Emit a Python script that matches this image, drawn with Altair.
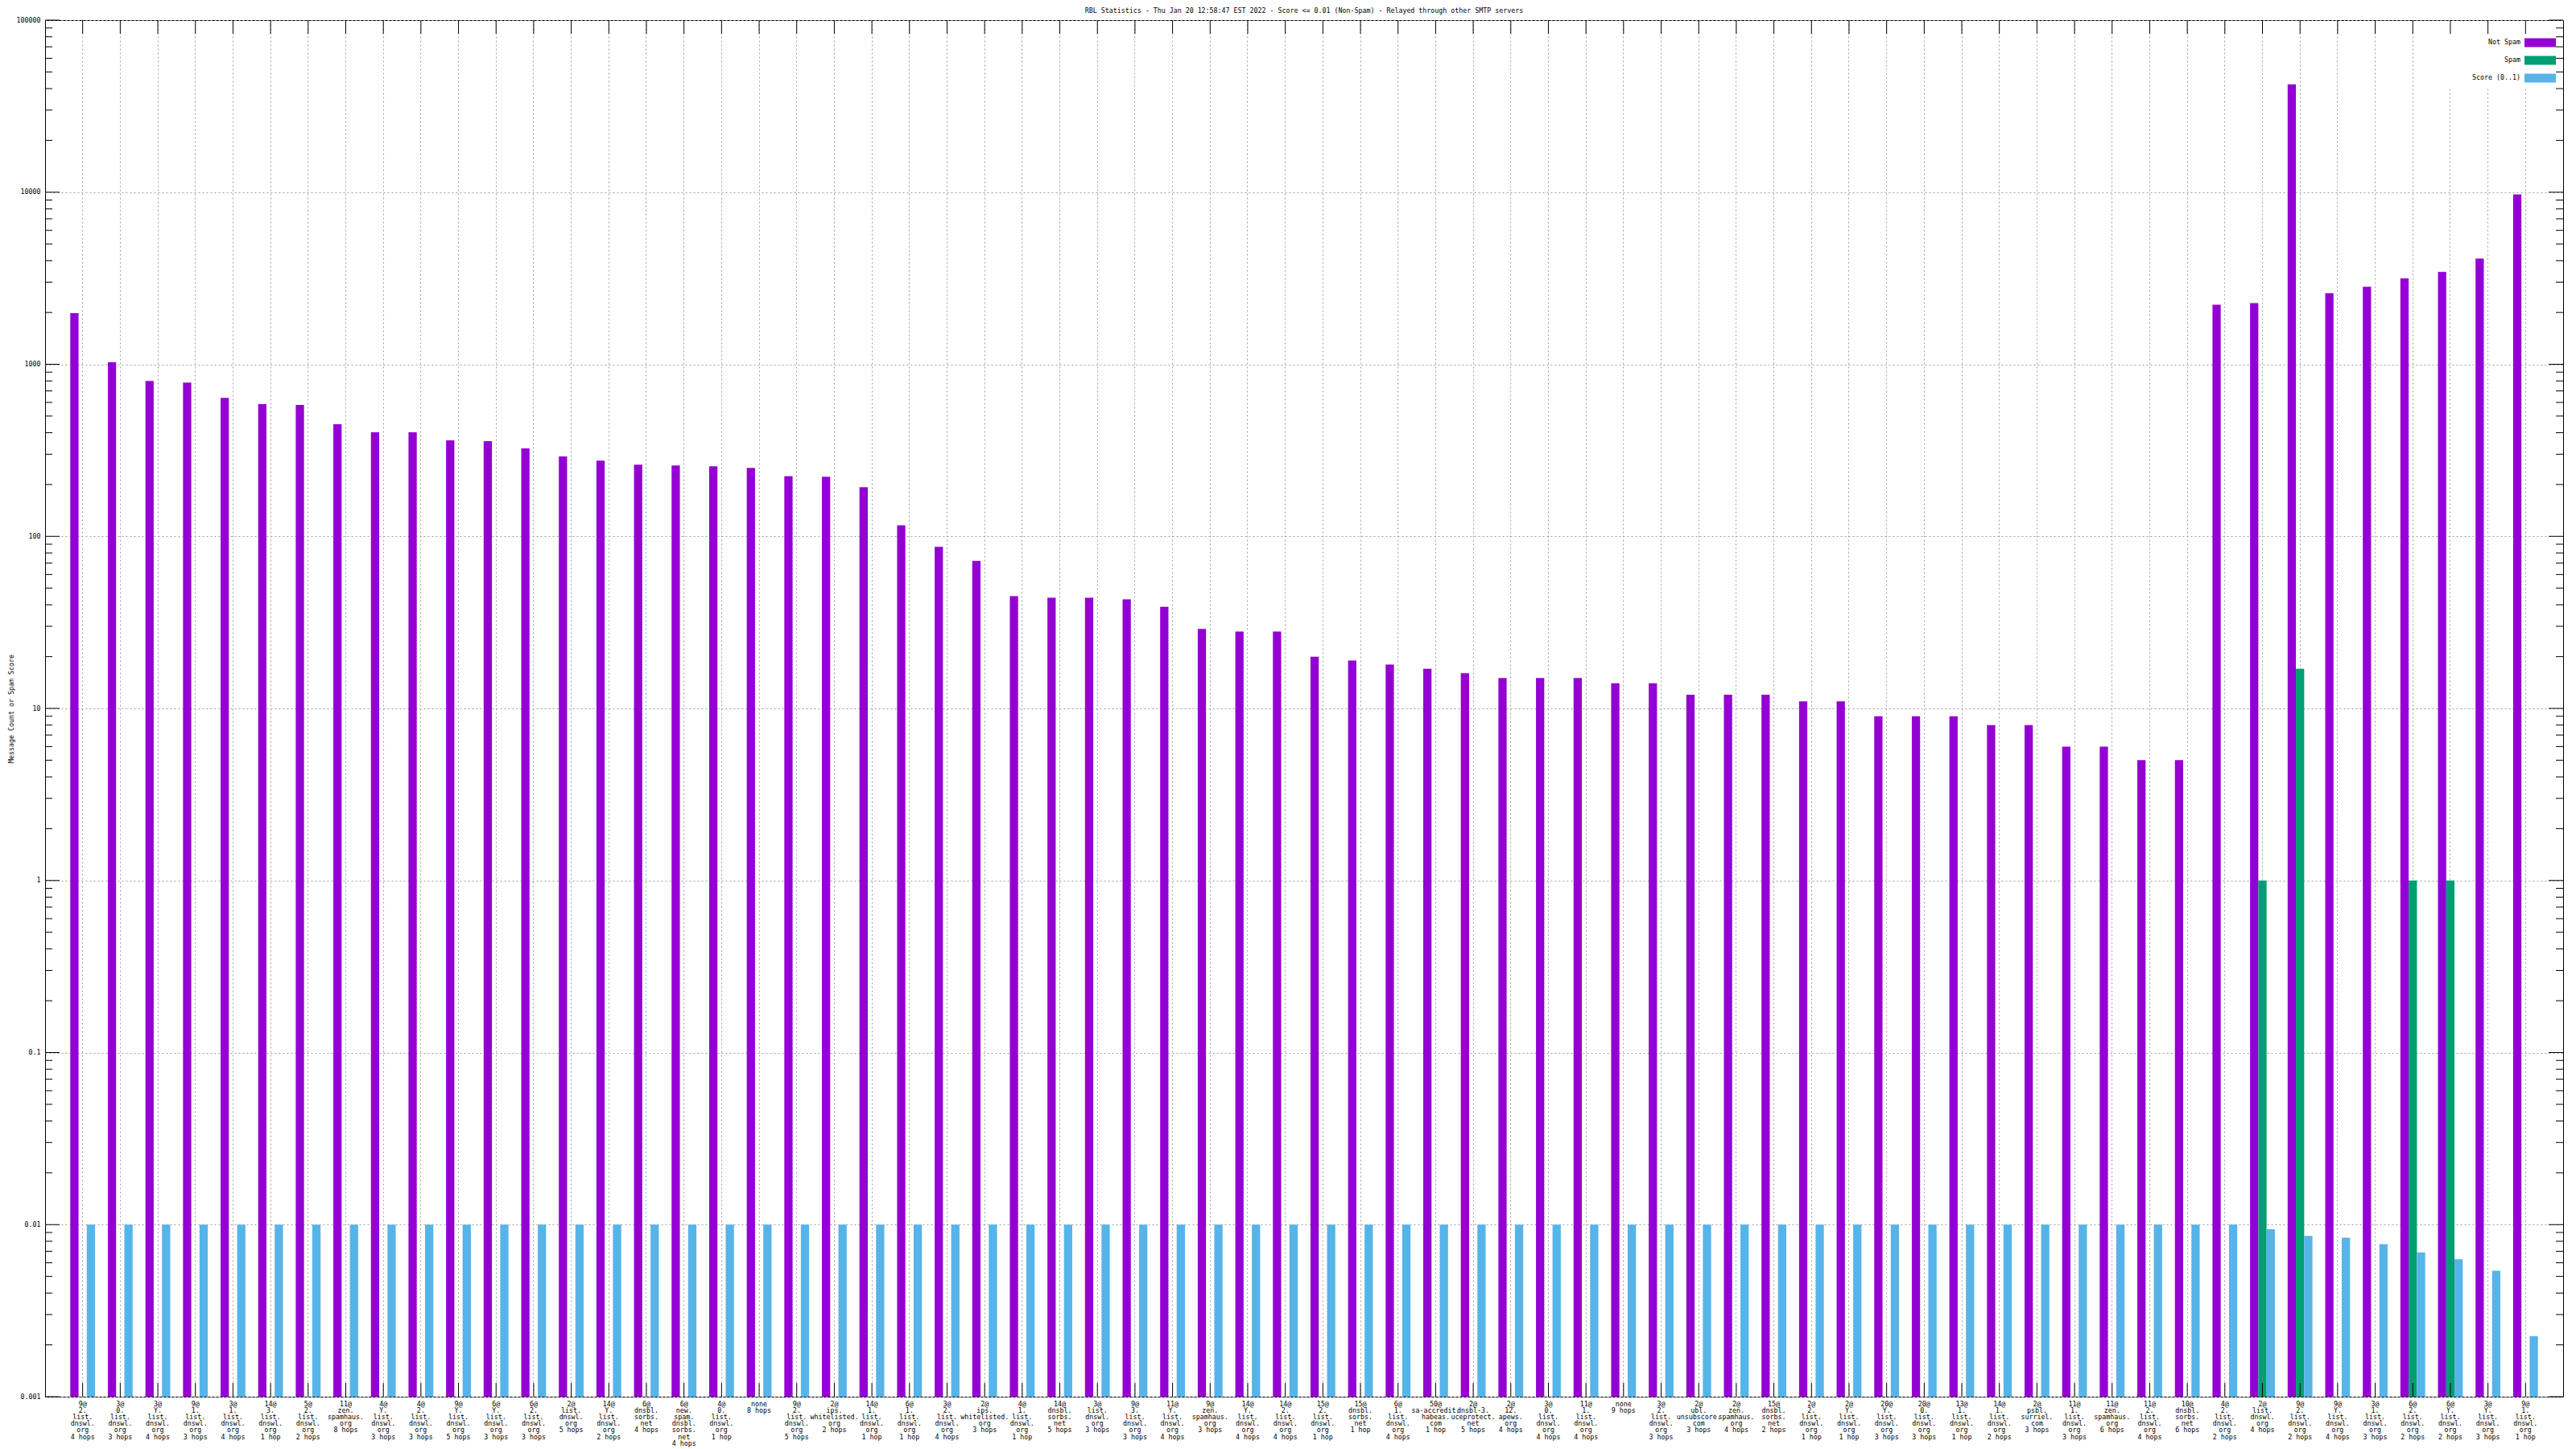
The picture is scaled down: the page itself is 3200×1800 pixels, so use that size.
import altair as alt
import pandas as pd

title_text = "RBL Statistics - Thu Jan 20 12:58:47 EST 2022 - Score <= 0.01 (Non-Spam) - Relayed through other SMTP servers"
y_title = "Message Count or Spam Score"

labels = [
    "9@|2.|list.|dnswl.|org|4 hops",
    "3@|0.|list.|dnswl.|org|3 hops",
    "3@|Y.|list.|dnswl.|org|4 hops",
    "9@|1.|list.|dnswl.|org|3 hops",
    "3@|1.|list.|dnswl.|org|4 hops",
    "14@|3.|list.|dnswl.|org|1 hop",
    "5@|2.|list.|dnswl.|org|2 hops",
    "11@|zen.|spamhaus.|org|8 hops",
    "4@|Y.|list.|dnswl.|org|3 hops",
    "4@|2.|list.|dnswl.|org|3 hops",
    "9@|Y.|list.|dnswl.|org|5 hops",
    "6@|Y.|list.|dnswl.|org|3 hops",
    "6@|2.|list.|dnswl.|org|3 hops",
    "2@|list.|dnswl.|org|5 hops",
    "14@|Y.|list.|dnswl.|org|2 hops",
    "6@|dnsbl.|sorbs.|net|4 hops",
    "6@|new.|spam.|dnsbl.|sorbs.|net|4 hops",
    "4@|0.|list.|dnswl.|org|1 hop",
    "none|8 hops",
    "9@|2.|list.|dnswl.|org|5 hops",
    "2@|ips.|whitelisted.|org|2 hops",
    "14@|1.|list.|dnswl.|org|1 hop",
    "6@|1.|list.|dnswl.|org|1 hop",
    "3@|2.|list.|dnswl.|org|4 hops",
    "2@|ips.|whitelisted.|org|3 hops",
    "4@|1.|list.|dnswl.|org|1 hop",
    "14@|dnsbl.|sorbs.|net|5 hops",
    "3@|list.|dnswl.|org|3 hops",
    "9@|3.|list.|dnswl.|org|3 hops",
    "11@|Y.|list.|dnswl.|org|4 hops",
    "9@|zen.|spamhaus.|org|3 hops",
    "14@|Y.|list.|dnswl.|org|4 hops",
    "14@|2.|list.|dnswl.|org|4 hops",
    "15@|2.|list.|dnswl.|org|1 hop",
    "15@|dnsbl.|sorbs.|net|1 hop",
    "6@|1.|list.|dnswl.|org|4 hops",
    "50@|sa-accredit.|habeas.|com|1 hop",
    "2@|dnsbl-3.|uceprotect.|net|5 hops",
    "2@|12.|apews.|org|4 hops",
    "3@|0.|list.|dnswl.|org|4 hops",
    "11@|1.|list.|dnswl.|org|4 hops",
    "none|9 hops",
    "3@|2.|list.|dnswl.|org|3 hops",
    "2@|ubl.|unsubscore.|com|3 hops",
    "2@|zen.|spamhaus.|org|4 hops",
    "15@|dnsbl.|sorbs.|net|2 hops",
    "2@|2.|list.|dnswl.|org|1 hop",
    "2@|Y.|list.|dnswl.|org|1 hop",
    "20@|Y.|list.|dnswl.|org|3 hops",
    "20@|0.|list.|dnswl.|org|3 hops",
    "13@|1.|list.|dnswl.|org|1 hop",
    "14@|1.|list.|dnswl.|org|2 hops",
    "2@|psbl.|surriel.|com|3 hops",
    "11@|1.|list.|dnswl.|org|3 hops",
    "11@|zen.|spamhaus.|org|6 hops",
    "11@|2.|list.|dnswl.|org|4 hops",
    "10@|dnsbl.|sorbs.|net|6 hops",
    "4@|2.|list.|dnswl.|org|2 hops",
    "2@|list.|dnswl.|org|4 hops",
    "9@|2.|list.|dnswl.|org|2 hops",
    "9@|Y.|list.|dnswl.|org|4 hops",
    "3@|1.|list.|dnswl.|org|3 hops",
    "6@|2.|list.|dnswl.|org|2 hops",
    "6@|Y.|list.|dnswl.|org|2 hops",
    "3@|Y.|list.|dnswl.|org|3 hops",
    "9@|1.|list.|dnswl.|org|1 hop",
]

not_spam = [1980, 1026, 800, 783, 638, 586, 580, 448, 402, 402,
            361, 357, 324, 291, 275, 261, 258, 255, 250, 224,
            222, 193, 116, 87, 72, 45, 44, 44, 43, 39,
            29, 28, 28, 20, 19, 18, 17, 16, 15, 15,
            15, 14, 14, 12, 12, 12, 11, 11, 9, 9,
            9, 8, 8, 6, 6, 5, 5,
            2220, 2270, 42400, 2590, 2820, 3160, 3440, 4110, 9700]

spam = [0] * 57 + [0, 1, 17, 0, 0, 1, 1, 0, 0]

score = [0.01] * 57 + [0.01, 0.0094, 0.0086, 0.0084, 0.0077, 0.0069, 0.0063, 0.0054, 0.00225]

series_names = ["Not Spam", "Spam", "Score (0..1)"]
series_colors = ["#9400D3", "#009E73", "#56B4E9"]

y_major = [0.001, 0.01, 0.1, 1, 10, 100, 1000, 10000, 100000]
y_minor = [m * 10.0 ** k for k in range(-3, 5) for m in range(2, 10)]

W, H = 3128, 1710
BASE = 0.001
FONT = "DejaVu Sans Mono"
FS = 8.3

rows = []
for i, lab in enumerate(labels):
    for s, vals in zip(series_names, (not_spam, spam, score)):
        v = vals[i]
        if v > 0:
            rows.append({"cat": lab, "series": s, "value": v, "base": BASE})
df = pd.DataFrame(rows)
cat_df = pd.DataFrame({"cat": labels})
maj_df = pd.DataFrame({"value": y_major})
min_df = pd.DataFrame({"value": y_minor})

x_scale = alt.Scale(domain=labels, paddingInner=0.34, paddingOuter=0.67)
y_scale = alt.Scale(type="log", domain=[0.001, 100000], nice=False)

bars = alt.Chart(df).mark_bar().encode(
    x=alt.X("cat:N", sort=labels, scale=x_scale,
            axis=alt.Axis(title=None, labelExpr="split(datum.label, '|')",
                          labelAngle=0, labelAlign="center", labelBaseline="top",
                          labelFontSize=FS, labelLineHeight=8.2, labelPadding=4,
                          labelOverlap=False, labelLimit=0, labelBound=False, labelFlush=False,
                          ticks=False, domain=False, grid=True, bandPosition=0.5,
                          gridColor="#a0a0a0", gridDash=[2, 3], gridWidth=1,
                          labelColor="black")),
    xOffset=alt.XOffset("series:N", sort=series_names,
                        scale=alt.Scale(domain=series_names, paddingInner=0, paddingOuter=0)),
    y=alt.Y("value:Q", scale=y_scale,
            axis=alt.Axis(title=y_title, values=y_major, format="~g",
                          labelFontSize=FS, labelPadding=6, labelColor="black",
                          ticks=False, domain=False, grid=True,
                          gridColor="#a0a0a0", gridDash=[2, 3], gridWidth=1,
                          titleFontSize=FS, titleFontWeight="normal", titleColor="black",
                          titleX=-42, titleY=H / 2, titleAngle=270,
                          titleAlign="center", titleBaseline="middle")),
    y2="base:Q",
    color=alt.Color("series:N", scale=alt.Scale(domain=series_names, range=series_colors), legend=None),
)

white_box = alt.Chart(pd.DataFrame({"a": [0]})).mark_rect(color="white").encode(
    x=alt.value(W - 180), x2=alt.value(W - 1), y=alt.value(1), y2=alt.value(84))

xt_bottom = alt.Chart(cat_df).mark_rule(color="black", strokeWidth=1).encode(
    x=alt.X("cat:N", sort=labels), y=alt.value(H), y2=alt.value(H - 17))
xt_top = alt.Chart(cat_df).mark_rule(color="black", strokeWidth=1).encode(
    x=alt.X("cat:N", sort=labels), y=alt.value(0), y2=alt.value(17))

def ytick(data, x0, x1):
    return alt.Chart(data).mark_rule(color="black", strokeWidth=1).encode(
        y=alt.Y("value:Q"), x=alt.value(x0), x2=alt.value(x1))

yt = [ytick(maj_df, 0, 18), ytick(min_df, 0, 9), ytick(maj_df, W, W - 18), ytick(min_df, W, W - 9)]

legend_layers = []
row_y = [28, 50, 72]
for name, col, ry in zip(series_names, series_colors, row_y):
    d = pd.DataFrame({"t": [name]})
    legend_layers.append(alt.Chart(d).mark_text(align="right", baseline="middle", fontSize=FS,
                                                font=FONT, color="black").encode(
        text="t:N", x=alt.value(W - 53), y=alt.value(ry)))
    legend_layers.append(alt.Chart(d).mark_rect(color=col).encode(
        x=alt.value(W - 48), x2=alt.value(W - 9), y=alt.value(ry - 5.5), y2=alt.value(ry + 5.5)))

title = alt.Chart(pd.DataFrame({"t": [title_text]})).mark_text(
    align="center", baseline="middle", fontSize=FS, font=FONT, color="black").encode(
    text="t:N", x=alt.value(W / 2), y=alt.value(-11))

chart = alt.layer(bars, white_box, xt_bottom, xt_top, *yt, *legend_layers, title).properties(
    width=W, height=H,
    autosize=alt.AutoSizeParams(type="none"),
    padding={"left": 48, "top": 17, "right": 8, "bottom": 65},
    background="white",
).configure(font=FONT).configure_view(stroke="black", strokeWidth=1)

chart.save("out.html", embed_options={"renderer": "svg", "actions": False})
